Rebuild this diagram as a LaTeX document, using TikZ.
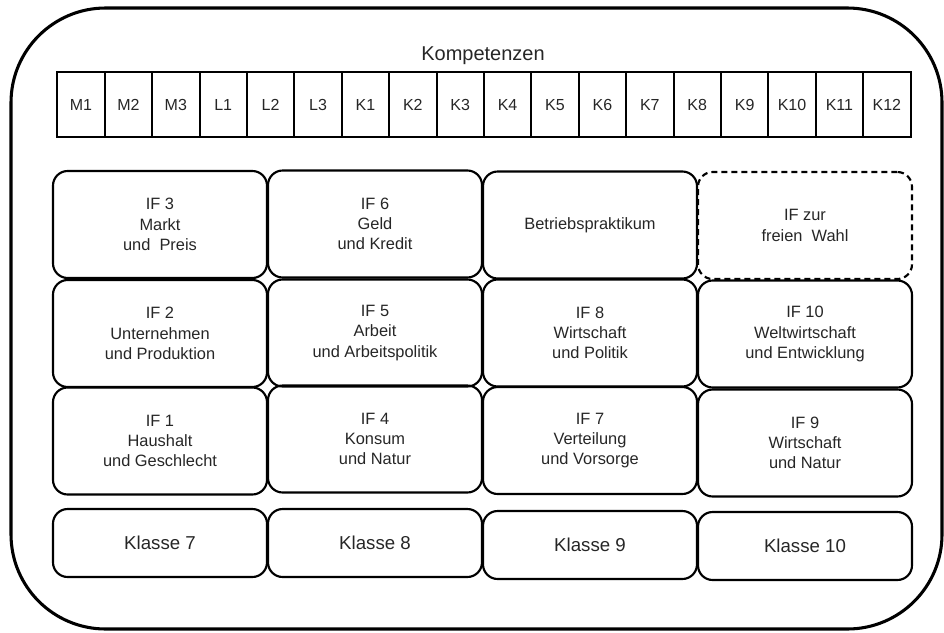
\documentclass[tikz,border=0pt]{standalone}
\usepackage{fontspec}
\setmainfont{Liberation Sans}
\begin{document}
\begin{tikzpicture}[x=0.75pt,y=-0.75pt]
\tikzset{
  outerframe/.style={draw, line width=2.3pt, rounded corners=71pt, minimum width=698.25pt, minimum height=465.75pt, inner sep=0pt, outer sep=0pt},
  cell/.style={draw, line width=1.5pt, minimum width=35.55pt, minimum height=48.75pt, inner sep=0pt, outer sep=0pt, text height=8.6pt, text depth=0pt, font=\fontsize{12}{14}\selectfont, text=black!85},
  ifbox/.style={draw, line width=1.6pt, rounded corners=11pt, minimum width=160.5pt, minimum height=80.25pt, inner sep=0pt, outer sep=0pt, align=center, font=\fontsize{12.3}{15.2}\selectfont, text=black!85},
  klbox/.style={ifbox, minimum height=51pt, font=\fontsize{14}{16}\selectfont, text height=10pt, text depth=0pt}
}
\useasboundingbox (0,0) rectangle (944,632);
\node[outerframe] (frame) at (476.5,318.5) {};
\node[anchor=base, font=\fontsize{15}{18}\selectfont, text=black!85] (komp) at (483,60.7) {Kompetenzen};
\foreach \lab [count=\i] in {M1,M2,M3,L1,L2,L3,K1,K2,K3,K4,K5,K6,K7,K8,K9,K10,K11,K12}
  \node[cell] (c\i) at ({57.3+47.4*(\i-0.5)},104.5) {\lab};
% row 1
\node[ifbox] (if3) at (160,224.5) {IF 3\\Markt\\und~ Preis};
\node[ifbox] (if6) at (375,224) {IF 6\\Geld\\und Kredit};
\node[ifbox] (bp) at (590,225) {Betriebspraktikum};
\node[ifbox, dashed, dash pattern=on 4.5pt off 3pt] (wahl) at (805,225.5) {IF zur\\freien~ Wahl};
% row 2
\node[ifbox] (if2) at (160,333.5) {IF 2\\Unternehmen\\und Produktion};
\node[ifbox] (if5) at (375,333) {IF 5\\Arbeit\\und Arbeitspolitik};
\node[ifbox] (if8) at (590,333) {IF 8\\Wirtschaft\\und Politik};
\node[ifbox] (if10) at (805,334) {IF 10\\Weltwirtschaft\\und Entwicklung};
% row 3
\node[ifbox] (if1) at (160,441) {IF 1\\Haushalt\\und Geschlecht};
\node[ifbox] (if4) at (375,439) {IF 4\\Konsum\\und Natur};
\node[ifbox] (if7) at (590,440.5) {IF 7\\Verteilung\\und Vorsorge};
\node[ifbox] (if9) at (805,443) {IF 9\\Wirtschaft\\und Natur};
% row 4
\node[klbox] (k7) at (160,543) {Klasse 7};
\node[klbox] (k8) at (375,543) {Klasse 8};
\node[klbox] (k9) at (590,545) {Klasse 9};
\node[klbox] (k10) at (805,546) {Klasse 10};
\end{tikzpicture}
\end{document}
